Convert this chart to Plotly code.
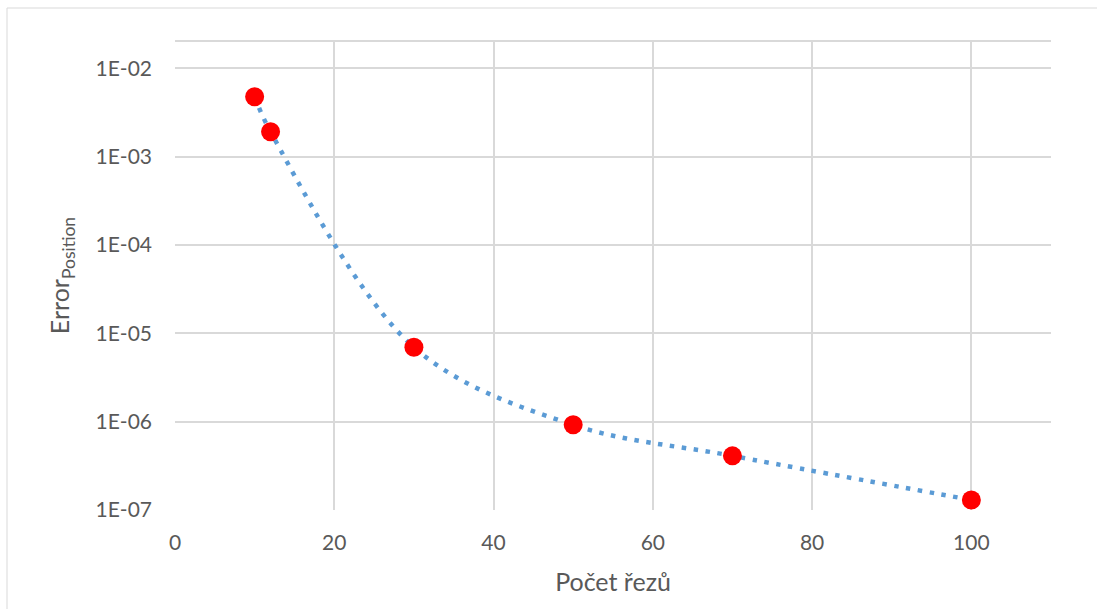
import plotly.graph_objects as go

# Number of cuts and the resulting position error
cuts = [10, 12, 30, 50, 70, 100]
error_position = [4.76e-3, 1.91e-3, 6.95e-6, 9.2e-7, 4.1e-7, 1.3e-7]

x_ticks = [0, 20, 40, 60, 80, 100]
y_ticks = [1e-2, 1e-3, 1e-4, 1e-5, 1e-6, 1e-7]
y_tick_labels = ["1E-02", "1E-03", "1E-04", "1E-05", "1E-06", "1E-07"]

W, H = 1097, 609
ML, MR, MT, MB = 175, 46, 41, 99
FONT = "Lato, Carlito, Calibri, sans-serif"
TEXT = "#595959"
GRID = "#d9d9d9"

fig = go.Figure()

# smoothed dotted curve through the measurements
fig.add_trace(go.Scatter(
    x=cuts, y=error_position, mode="lines",
    line=dict(color="#5b9bd5", width=4.5, dash="4.5px,7.5px",
              shape="spline", smoothing=1.0),
    hoverinfo="skip", showlegend=False,
))

fig.add_trace(go.Scatter(
    x=cuts, y=error_position, mode="markers",
    marker=dict(color="#ff0000", size=19, line=dict(width=0)),
    showlegend=False,
))

pw = W - ML - MR
ph = H - MT - MB

# outer chart-area border
fig.add_shape(type="rect", xref="paper", yref="paper",
              x0=(7 - ML) / pw, x1=(W + 5 - ML) / pw,
              y0=(H - MB - (H + 5)) / ph, y1=(H - MB - 8) / ph,
              line=dict(color=GRID, width=1), fillcolor="rgba(0,0,0,0)",
              layer="below")
# top edge of plot area
fig.add_shape(type="line", xref="paper", yref="paper",
              x0=0, x1=1, y0=1, y1=1,
              line=dict(color=GRID, width=2), layer="below")

fig.update_layout(
    width=W, height=H,
    margin=dict(l=ML, r=MR, t=MT, b=MB),
    paper_bgcolor="white", plot_bgcolor="white",
    font=dict(family=FONT, color=TEXT, size=20),
    showlegend=False,
)

fig.update_xaxes(
    range=[0, 110], tickvals=x_ticks, ticktext=[str(v) for v in x_ticks],
    showgrid=True, gridcolor=GRID, gridwidth=2,
    zeroline=False, showline=False, ticks="",
    tickfont=dict(family=FONT, size=21, color=TEXT),
    ticklabelstandoff=18,
    title=dict(text="Počet řezů", font=dict(family=FONT, size=25, color=TEXT),
               standoff=20),
)

fig.update_yaxes(
    type="log", range=[-7, -1.692],
    tickvals=y_ticks, ticktext=y_tick_labels,
    showgrid=True, gridcolor=GRID, gridwidth=2,
    zeroline=False, showline=False, ticks="",
    tickfont=dict(family=FONT, size=21, color=TEXT),
    ticklabelstandoff=22,
    title=dict(text="Error<sub>Position</sub>",
               font=dict(family=FONT, size=25, color=TEXT), standoff=18),
)

fig.write_html("out.html")
